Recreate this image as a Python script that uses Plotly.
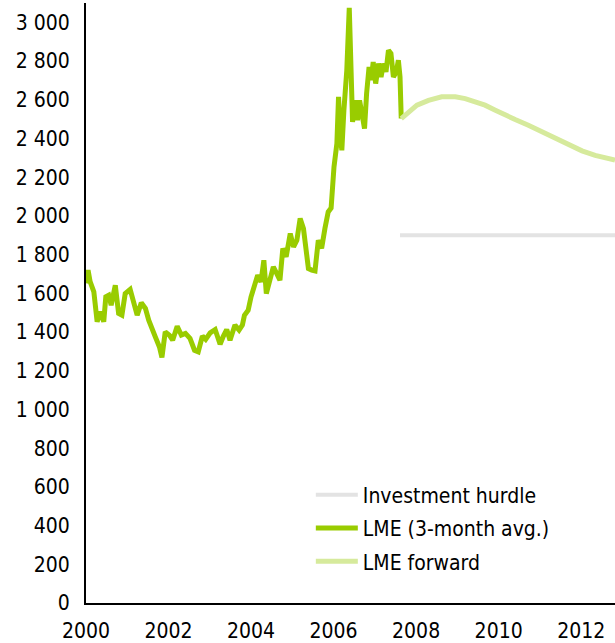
import plotly.graph_objects as go

# LME 3-month average (USD/t), decimal years
lme_years = [2000.00, 2000.05, 2000.10, 2000.19, 2000.27, 2000.35, 2000.43, 2000.48, 2000.55, 2000.61,
             2000.71, 2000.79, 2000.87, 2000.95, 2001.07, 2001.16, 2001.24, 2001.34, 2001.44, 2001.52,
             2001.60, 2001.68, 2001.78, 2001.84, 2001.92, 2002.02, 2002.10, 2002.21, 2002.31, 2002.41,
             2002.52, 2002.63, 2002.72, 2002.82, 2002.90, 2003.01, 2003.13, 2003.25, 2003.33, 2003.41,
             2003.49, 2003.61, 2003.71, 2003.79, 2003.84, 2003.93, 2004.00, 2004.08, 2004.16, 2004.24,
             2004.31, 2004.37, 2004.46, 2004.54, 2004.62, 2004.70, 2004.77, 2004.85, 2004.95, 2005.03,
             2005.11, 2005.19, 2005.27, 2005.33, 2005.39, 2005.47, 2005.55, 2005.63, 2005.71, 2005.79,
             2005.87, 2005.94, 2005.98, 2006.01, 2006.08, 2006.12, 2006.16, 2006.20, 2006.25, 2006.32,
             2006.38, 2006.42, 2006.46, 2006.52, 2006.58, 2006.63, 2006.68, 2006.75, 2006.80, 2006.86,
             2006.91, 2006.96, 2007.02, 2007.09, 2007.15, 2007.21, 2007.27, 2007.33, 2007.39, 2007.45,
             2007.52, 2007.57, 2007.61, 2007.64]
lme_values = [1652, 1720, 1660, 1608, 1453, 1504, 1453, 1582, 1590, 1539,
              1642, 1496, 1487, 1599, 1620, 1548, 1487, 1551, 1522, 1461,
              1410, 1375, 1323, 1269, 1401, 1384, 1358, 1430, 1384, 1393,
              1367, 1306, 1298, 1379, 1362, 1396, 1413, 1337, 1379, 1413,
              1358, 1436, 1410, 1436, 1487, 1513, 1582, 1651, 1694, 1659,
              1771, 1599, 1677, 1737, 1703, 1668, 1832, 1788, 1909, 1840,
              1874, 1987, 1935, 1806, 1728, 1720, 1716, 1874, 1832, 1935,
              2021, 2040, 2190, 2253, 2374, 2615, 2426, 2339, 2546, 2752,
              3075, 2770, 2485, 2597, 2494, 2597, 2529, 2451, 2632, 2770,
              2701, 2795, 2684, 2787, 2718, 2787, 2744, 2856, 2839, 2718,
              2744, 2804, 2718, 2503]

# LME forward curve
fwd_years = [2007.64, 2007.81, 2008.02, 2008.30, 2008.62, 2008.95, 2009.19, 2009.43, 2009.67, 2009.92,
             2010.16, 2010.40, 2010.72, 2011.05, 2011.37, 2011.69, 2012.02, 2012.34, 2012.66, 2012.82]
fwd_values = [2503, 2537, 2572, 2597, 2615, 2615, 2606, 2589, 2572, 2546,
              2520, 2498, 2468, 2434, 2405, 2370, 2336, 2313, 2296, 2288]

# Investment hurdle
hurdle_years = [2007.61, 2012.82]
hurdle_values = [1900, 1900]

tick_years = [2000, 2002, 2004, 2006, 2008, 2010, 2012]
tick_labels = [str(y) for y in tick_years]

FONT = "DejaVu Sans Condensed, DejaVu Sans, sans-serif"

fig = go.Figure()
fig.add_trace(go.Scatter(x=hurdle_years, y=hurdle_values, mode="lines", name="Investment hurdle",
                         line=dict(color="#E3E3E3", width=4), legendgroup="a"))
fig.add_trace(go.Scatter(x=lme_years, y=lme_values, mode="lines", name="LME (3-month avg.)",
                         line=dict(color="#99CC00", width=5), legendgroup="b"))
fig.add_trace(go.Scatter(x=fwd_years, y=fwd_values, mode="lines", name="LME forward",
                         line=dict(color="#D6EA9C", width=5), legendgroup="c"))

fig.update_layout(
    width=615, height=643,
    margin=dict(l=86, r=0, t=3, b=40),
    paper_bgcolor="white", plot_bgcolor="white",
    font=dict(family=FONT, size=21, color="#000000"),
    separators=". ",
    showlegend=True,
    legend=dict(x=0.425, y=0.214, xanchor="left", yanchor="top",
                bgcolor="rgba(0,0,0,0)", traceorder="grouped", tracegroupgap=3,
                itemwidth=42, font=dict(family=FONT, size=21)),
    xaxis=dict(range=[2000, 2012.82], tickvals=tick_years, ticktext=tick_labels,
               showgrid=False, zeroline=False, showline=True, linecolor="black", linewidth=2,
               ticks="", ticklabelstandoff=8, automargin=False),
    yaxis=dict(range=[0, 3100], tickvals=list(range(0, 3001, 200)), tickformat=",d",
               showgrid=False, zeroline=False, showline=True, linecolor="black", linewidth=2,
               ticks="", ticklabelstandoff=10, automargin=False),
)

fig.write_html("out.html", config={"displayModeBar": False},
               post_script="document.body.style.margin='0';document.body.style.overflow='hidden';")
